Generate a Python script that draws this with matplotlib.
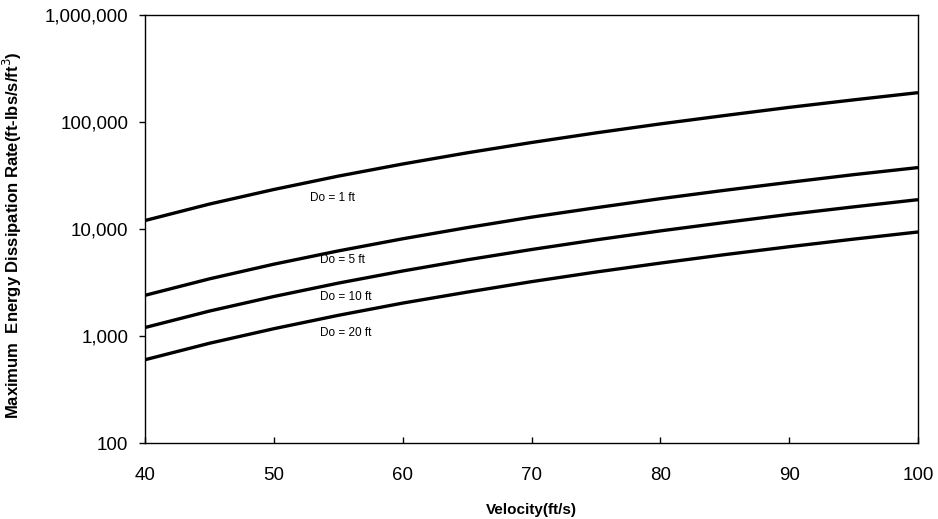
import matplotlib
matplotlib.use("Agg")
import matplotlib.pyplot as plt
from matplotlib.ticker import FixedLocator, FuncFormatter

plt.rcParams['font.family'] = ['Liberation Sans', 'DejaVu Sans']

velocity = [40, 45, 50, 55, 60, 65, 70, 75, 80, 85, 90, 95, 100]
rate_do1 = [12000, 17100, 23400, 31200, 40500, 51500, 64300, 79100, 96000, 115000, 137000, 161000, 188000]
rate_do5 = [2400, 3420, 4690, 6240, 8100, 10300, 12900, 15800, 19200, 23000, 27300, 32200, 37500]
rate_do10 = [1200, 1710, 2340, 3120, 4050, 5150, 6430, 7910, 9600, 11500, 13700, 16100, 18800]
rate_do20 = [600, 855, 1170, 1560, 2030, 2570, 3220, 3960, 4800, 5760, 6830, 8040, 9380]
series_labels = ["Do = 1 ft", "Do = 5 ft", "Do = 10 ft", "Do = 20 ft"]
label_pos = [(52.8, 19500), (53.6, 5100), (53.6, 2290), (53.6, 1070)]
y_ticks = [100, 1000, 10000, 100000, 1000000]
x_ticks = [40, 50, 60, 70, 80, 90, 100]

fig = plt.figure(figsize=(9.38, 5.19), dpi=100)
ax = fig.add_axes([145/938, 1-443/519, (918-145)/938, (443-15)/519])

for ys in [rate_do1, rate_do5, rate_do10, rate_do20]:
    ax.plot(velocity, ys, color='black', lw=2.4, solid_capstyle='butt')

for lab, (x, y) in zip(series_labels, label_pos):
    ax.text(x, y, lab, fontsize=8.5, ha='left', va='center', color='black')

ax.set_yscale('log')
ax.set_xlim(40, 100)
ax.set_ylim(100, 1000000)
ax.yaxis.set_major_locator(FixedLocator(y_ticks))
ax.yaxis.set_minor_locator(FixedLocator([]))
ax.yaxis.set_major_formatter(FuncFormatter(lambda v, p: f"{int(round(v)):,}"))
ax.set_xticks(x_ticks)
ax.tick_params(axis='y', direction='out', length=4, width=1, labelsize=13.5, pad=8)
ax.tick_params(axis='x', direction='in', length=4, width=1, labelsize=13.5, pad=17)
for s in ax.spines.values():
    s.set_linewidth(1.0)

ax.set_xlabel("Velocity(ft/s)", fontsize=11, fontweight='bold', labelpad=14)
ax.set_ylabel("Maximum  Energy Dissipation Rate(ft-lbs/s/ft$^3$)", fontsize=12, fontweight='bold')
ax.yaxis.set_label_coords(-(145-24)/773, 0.485)

fig.savefig("out.png", dpi=100)
